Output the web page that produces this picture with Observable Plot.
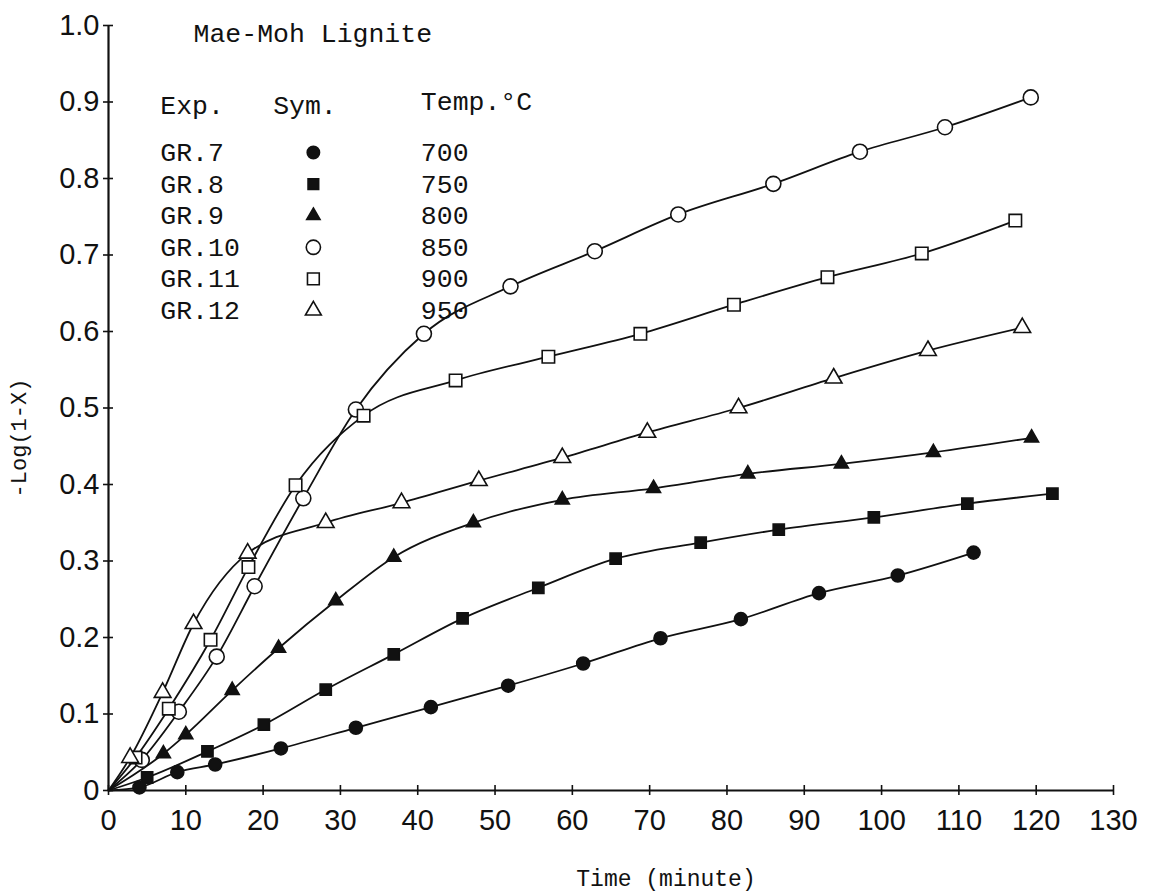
<!DOCTYPE html>
<html>
<head>
<meta charset="utf-8">
<script src="https://cdn.jsdelivr.net/npm/d3@7"></script>
<script src="https://cdn.jsdelivr.net/npm/@observablehq/plot@0.6"></script>
<style>
  html, body { margin: 0; padding: 0; background: #fff; }
  #chart svg { display: block; }
</style>
</head>
<body>
<div id="chart"></div>
<script>
// Mae-Moh lignite gasification runs: -Log(1-X) against time (minutes)
const runs = ["GR.7", "GR.8", "GR.9", "GR.10", "GR.11", "GR.12"];
const temps = [700, 750, 800, 850, 900, 950];

const gr7Time = [4.0, 8.9, 13.8, 22.3, 32.0, 41.7, 51.7, 61.4, 71.4, 81.8, 91.9, 102.1, 111.9];
const gr7Value = [0.004, 0.024, 0.034, 0.055, 0.082, 0.109, 0.137, 0.166, 0.199, 0.224, 0.258, 0.281, 0.311];

const gr8Time = [5.0, 12.8, 20.1, 28.1, 36.9, 45.8, 55.6, 65.6, 76.6, 86.7, 99.0, 111.1, 122.1];
const gr8Value = [0.017, 0.051, 0.086, 0.132, 0.178, 0.225, 0.265, 0.303, 0.324, 0.341, 0.357, 0.375, 0.388];

const gr9Time = [7.1, 10.0, 16.0, 22.0, 29.4, 36.9, 47.2, 58.7, 70.5, 82.7, 94.8, 106.7, 119.4];
const gr9Value = [0.048, 0.073, 0.131, 0.186, 0.248, 0.305, 0.350, 0.380, 0.395, 0.414, 0.427, 0.442, 0.461];

const gr10Time = [4.3, 9.1, 14.0, 18.9, 25.2, 32.0, 40.8, 52.0, 62.9, 73.7, 86.0, 97.2, 108.2, 119.3];
const gr10Value = [0.040, 0.103, 0.175, 0.267, 0.382, 0.498, 0.597, 0.659, 0.705, 0.753, 0.793, 0.835, 0.867, 0.906];

const gr11Time = [3.5, 7.8, 13.2, 18.1, 24.2, 33.0, 44.9, 56.9, 68.8, 80.9, 93.0, 105.2, 117.3];
const gr11Value = [0.043, 0.107, 0.197, 0.292, 0.399, 0.490, 0.536, 0.567, 0.597, 0.635, 0.671, 0.702, 0.745];

const gr12Time = [2.8, 7.0, 11.0, 18.0, 28.1, 37.9, 47.9, 58.7, 69.7, 81.5, 93.8, 106.0, 118.2];
const gr12Value = [0.043, 0.128, 0.218, 0.310, 0.350, 0.376, 0.405, 0.435, 0.468, 0.500, 0.539, 0.575, 0.605];

const xTicks = [0, 10, 20, 30, 40, 50, 60, 70, 80, 90, 100, 110, 120, 130];
const yTicks = [0, 0.1, 0.2, 0.3, 0.4, 0.5, 0.6, 0.7, 0.8, 0.9, 1.0];
const yTickLabels = ["0", "0.1", "0.2", "0.3", "0.4", "0.5", "0.6", "0.7", "0.8", "0.9", "1.0"];

// marker look per run: closed symbols for the three cooler runs, open for the hotter ones
const markerShape = ["circle", "square", "triangle", "circle", "square", "triangle"];
const markerSolid = [true, true, true, false, false, false];
const markerR = [6.5, 6.3, 5.2, 7.5, 7.0, 6.2];

const times = [gr7Time, gr8Time, gr9Time, gr10Time, gr11Time, gr12Time];
const values = [gr7Value, gr8Value, gr9Value, gr10Value, gr11Value, gr12Value];

const points = runs.flatMap((run, i) =>
  times[i].map((t, j) => ({ run, i, t, v: values[i][j] })));
// every curve is drawn out of the origin
const curves = runs.flatMap((run, i) =>
  [{ run, i, t: 0, v: 0 }, ...points.filter(d => d.i === i)]);

const mono = "'Liberation Mono', 'DejaVu Sans Mono', monospace";
const sans = "'Liberation Sans', Arial, sans-serif";
const legendSize = 26.5;

// legend layout (in axis units)
const legendRowTop = 0.834, legendRowStep = 0.0413, legendHead = 0.895;
const colExp = 6.7, colSym = 21.3, colMark = 26.5, colTemp = 40.4;
const legendRows = runs.map((run, i) => ({ run, i, temp: String(temps[i]), y: legendRowTop - i * legendRowStep }));

const dotMarks = (data, xKey, yKey) => runs.map((run, i) =>
  Plot.dot(data.filter(d => d.i === i), {
    x: xKey, y: yKey,
    symbol: markerShape[i],
    r: markerR[i],
    fill: markerSolid[i] ? "#111" : "#fff",
    stroke: "#111",
    strokeWidth: 1.6
  }));

const legendText = (data, options) => Plot.text(data, {
  textAnchor: "start", fontFamily: mono, fontSize: legendSize, fill: "#111", ...options
});

const chart = Plot.plot({
  width: 1155,
  height: 891,
  marginLeft: 108,
  marginRight: 42,
  marginTop: 25,
  marginBottom: 101,
  x: { domain: [0, 130] },
  y: { domain: [0, 1] },
  style: { background: "#fff", color: "#111", fontFamily: sans, fontSize: "29px" },
  marks: [
    // axis lines
    Plot.ruleX([0], { y1: 0, y2: 1, stroke: "#111", strokeWidth: 2.2 }),
    Plot.ruleY([0], { x1: 0, x2: 130, stroke: "#111", strokeWidth: 2.2 }),
    // ticks cross the axes: outer half with labels, inner half without
    Plot.axisY(yTicks, {
      tickSize: 5, tickPadding: 4, strokeWidth: 1.6,
      tickFormat: d => yTickLabels[yTicks.indexOf(d)],
      fontSize: 29, fontFamily: sans, label: null
    }),
    Plot.axisY(yTicks, { tickSize: 5, dx: 5, strokeWidth: 1.6, tickFormat: () => "", label: null }),
    Plot.axisX(xTicks, {
      tickSize: 5, tickPadding: 14, strokeWidth: 1.6,
      tickFormat: d => String(d), fontSize: 29, fontFamily: sans, label: null
    }),
    Plot.axisX(xTicks, { tickSize: 5, dy: -5, strokeWidth: 1.6, tickFormat: () => "", label: null }),

    // axis titles
    Plot.text(["Time (minute)"], {
      frameAnchor: "bottom", textAnchor: "middle", dx: 55, dy: 95, text: d => d,
      fontFamily: mono, fontSize: 23
    }),
    Plot.text(["-Log(1-X)"], {
      frameAnchor: "left", textAnchor: "middle", dx: -90, dy: 30, rotate: -90, text: d => d,
      fontFamily: mono, fontSize: 22
    }),

    // fitted curves
    Plot.line(curves, { x: "t", y: "v", z: "run", curve: "monotone-x", stroke: "#111", strokeWidth: 1.8 }),
    ...dotMarks(points, "t", "v"),

    // legend block
    legendText(["Mae-Moh Lignite"], { x: 11.0, y: 0.99, text: d => d }),
    legendText(["Exp."], { x: colExp, y: legendHead, text: d => d }),
    legendText(["Sym."], { x: colSym, y: legendHead, text: d => d }),
    legendText(["Temp.°C"], { x: colTemp, y: legendHead + 0.006, text: d => d }),
    legendText(legendRows, { x: colExp, y: "y", text: "run" }),
    legendText(legendRows, { x: colTemp, y: "y", text: "temp" }),
    ...legendRows.map((d, i) => Plot.dot([d], {
      x: colMark, y: "y",
      symbol: markerShape[i],
      r: markerR[i] * 0.95,
      fill: markerSolid[i] ? "#111" : "#fff",
      stroke: "#111",
      strokeWidth: 1.6
    }))
  ]
});

document.getElementById("chart").append(chart);
</script>
</body>
</html>
